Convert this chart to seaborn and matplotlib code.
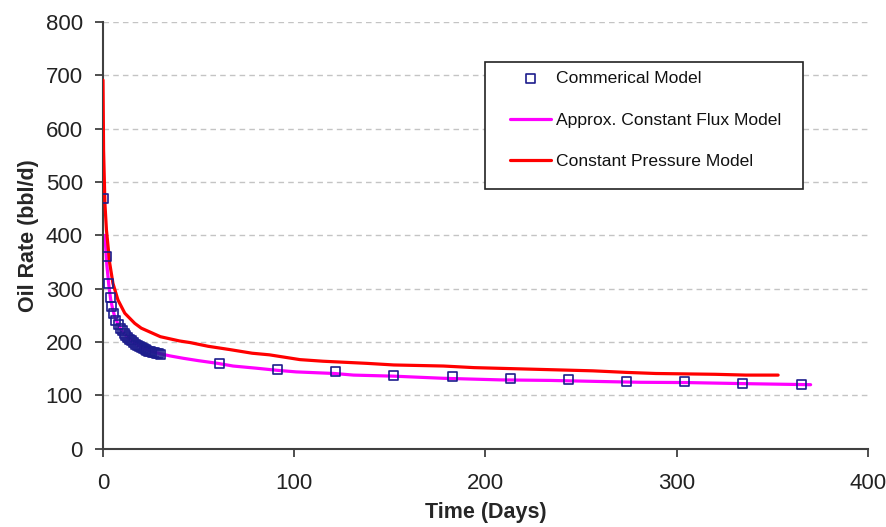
import numpy as np
import pandas as pd
import matplotlib
matplotlib.use("Agg")
import matplotlib.pyplot as plt
from matplotlib.patches import Rectangle
import seaborn as sns

# Commercial model (markers)
comm_days = [0.4, 1.6, 2.8, 3.8, 4.7, 5.7, 6.7, 8, 9, 10, 11, 12, 13, 14, 15, 16, 17,
             18, 19, 20, 21, 22, 23, 24, 25, 26, 27, 28, 29, 30,
             60.8, 91.3, 121.7, 152.1, 182.5, 213, 243.3, 273.8, 304.2, 334.6, 365]
comm_rate = [470, 360, 310, 283, 266, 254, 240, 232, 226, 221, 216, 212, 208, 205, 202, 199,
             196, 194, 192, 190, 188, 186, 185, 183, 182, 181, 180, 179, 178, 177,
             160, 148, 144, 137, 135, 132, 129, 126, 126, 123, 121]

# Approx. constant flux model
flux_days = [1, 2, 3, 4, 5, 6, 8, 10, 12, 15, 20, 25, 30, 35, 42, 50, 60, 68,
             80, 91, 101, 121, 131, 152, 178, 208, 234, 260, 281, 305, 335, 370]
flux_rate = [400, 345, 308, 280, 263, 249, 232, 220, 212, 202, 190, 183, 178, 174,
             169.5, 165, 160, 155, 151, 147, 144, 141, 138, 136, 132, 129, 128, 126, 124.5,
             124, 122, 120]

# Constant pressure model
pres_days = [0, 0.3, 1, 1.8, 3.5, 5.2, 7.8, 11.4, 16.6, 20, 25, 30, 35, 40, 45.5, 55, 66,
             78, 87, 103, 115, 138, 152, 178, 194, 225, 256, 274, 289, 320, 336, 353]
pres_rate = [691, 560, 460, 410, 348, 310, 279, 254, 235, 226, 218, 210, 206, 202, 199, 192,
             186, 179, 176, 167, 164, 160, 157, 155, 152, 149, 146, 143, 141, 139.5, 138, 138]

x_ticks = [0, 100, 200, 300, 400]
y_ticks = [0, 100, 200, 300, 400, 500, 600, 700, 800]

sns.set_style("white")
plt.rcParams['font.family'] = ['Liberation Sans', 'DejaVu Sans']

W, H = 887, 527
fig = plt.figure(figsize=(W/100, H/100), dpi=100)
x0, x1, ytop, ybot = 103, 868, 22, 448.7
ax = fig.add_axes([x0/W, 1-ybot/H, (x1-x0)/W, (ybot-ytop)/H])

df_flux = pd.DataFrame({"t": flux_days, "q": flux_rate})
df_pres = pd.DataFrame({"t": pres_days, "q": pres_rate})
df_comm = pd.DataFrame({"t": comm_days, "q": comm_rate})

for yv in y_ticks[1:]:
    ax.axhline(yv, color="#c4c4c4", lw=1.0, ls=(0, (4, 3)), zorder=0)

sns.lineplot(data=df_flux, x="t", y="q", ax=ax, color="#ff00ff", lw=2.3,
             label="Approx. Constant Flux Model", zorder=2, sort=False)
sns.lineplot(data=df_pres, x="t", y="q", ax=ax, color="#ff0000", lw=2.3,
             label="Constant Pressure Model", zorder=3, sort=False)
sns.scatterplot(data=df_comm, x="t", y="q", ax=ax, marker="s", s=42,
                facecolor="none", edgecolor="#1c1c8c", linewidth=1.2,
                label="Commerical Model", zorder=4)

ax.set_xlim(0, 400)
ax.set_ylim(0, 800)
ax.set_xticks(x_ticks)
ax.set_yticks(y_ticks)
ax.tick_params(axis="both", labelsize=16, direction="out", length=5.5, width=1.3,
               color="#404040", labelcolor="#222222", left=True, bottom=True)
ax.tick_params(axis="y", pad=9)
ax.tick_params(axis="x", pad=12)
for s in ["top", "right"]:
    ax.spines[s].set_visible(False)
for s in ["left", "bottom"]:
    ax.spines[s].set_color("#404040")
    ax.spines[s].set_linewidth(1.5)

ax.set_xlabel("Time (Days)", fontsize=15.5, fontweight="bold", labelpad=6)
ax.set_ylabel("Oil Rate (bbl/d)", fontsize=15.5, fontweight="bold", labelpad=5)

def fx(px):
    return (px - x0) / (x1 - x0)

def fy(py):
    return (ybot - py) / (ybot - ytop)

# legend frame
frame = Rectangle((fx(485), fy(189)), fx(803) - fx(485), fy(62) - fy(189),
                  transform=ax.transAxes, facecolor="white", edgecolor="#222222",
                  lw=1.2, zorder=9)
ax.add_patch(frame)

h, l = ax.get_legend_handles_labels()
order = [l.index("Commerical Model"), l.index("Approx. Constant Flux Model"),
         l.index("Constant Pressure Model")]
leg = ax.legend([h[i] for i in order], [l[i] for i in order],
                loc="upper left", bbox_to_anchor=(fx(510), fy(71)),
                frameon=False, fontsize=12.6,
                handlelength=2.35, labelspacing=1.5, borderpad=0,
                handletextpad=0.25, borderaxespad=0)
leg.set_zorder(10)
for t in leg.get_texts():
    t.set_color("#111111")

fig.savefig("out.png", dpi=100)
